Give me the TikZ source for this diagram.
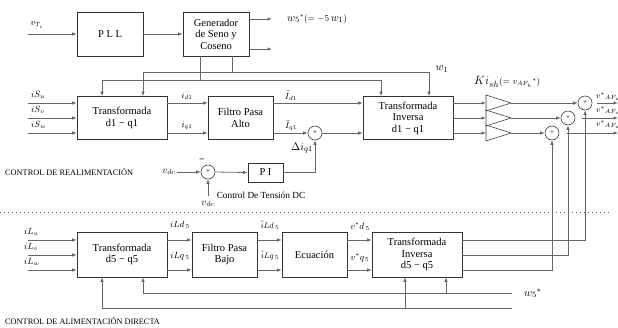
\documentclass[tikz,border=0pt]{standalone}
\usepackage{fontspec}
\setmainfont{Liberation Serif}
\usetikzlibrary{arrows.meta,calc}
\begin{document}
\begin{tikzpicture}[x=1pt,y=-1pt,
 blk/.style={draw=black!80, line width=0.6pt, inner sep=1pt, align=center, font=\fontsize{10.5}{11.5}\selectfont},
 ln/.style={draw=black!60, line width=0.8pt},
 arr/.style={ln, -{Latex[length=4.5pt,width=3.5pt]}},
 sumc/.style={circle, draw=black!75, line width=0.6pt, minimum size=14pt, inner sep=0pt, font=\fontsize{7}{7}\selectfont},
 lab/.style={inner sep=0pt, font=\fontsize{9}{9}\selectfont},
 captext/.style={inner sep=0pt, font=\fontsize{8.3}{9}\selectfont, anchor=west},
 tri/.style={draw=black!75, line width=0.6pt}
]
\useasboundingbox (0,0) rectangle (618,327);

% ---------- blocks ----------
\node[blk, minimum width=66pt, minimum height=44pt] (pll) at (110,34) {P L L};
\node[blk, minimum width=66pt, minimum height=44pt] (gen) at (216,34) {Generador\\de Seno y\\Coseno};
\node[blk, minimum width=90pt, minimum height=43pt] (td1) at (122,118) {Transformada\\d1 − q1};
\node[blk, minimum width=65pt, minimum height=43pt] (fpa) at (240.5,118) {Filtro Pasa\\Alto};
\node[blk, minimum width=90pt, minimum height=43pt] (tinv1) at (408,118) {Transformada\\Inversa\\d1 − q1};
\node[blk, minimum width=35pt, minimum height=19pt] (pi) at (265.5,172.5) {P I};

\node[blk, minimum width=90pt, minimum height=45pt] (td5) at (122,254.5) {Transformada\\d5 − q5};
\node[blk, minimum width=65pt, minimum height=45pt] (fpb) at (224.5,254.5) {Filtro Pasa\\Bajo};
\node[blk, minimum width=65pt, minimum height=45pt] (ecu) at (314.5,254.5) {Ecuación};
\node[blk, minimum width=90pt, minimum height=45pt] (tinv5) at (417,254.5) {Transformada\\Inversa\\d5 − q5};

\node[sumc] (sumq) at (315,133) {+};
\node[sumc] (sum1) at (585,103) {+};
\node[sumc] (sum2) at (568,118) {+};
\node[sumc] (sum3) at (552,133) {+};
\node[sumc] (sumdc) at (208,172) {+};

\foreach \n/\y in {1/103,2/118,3/133} {
  \draw[tri] (486,\y-8) -- (511,\y) -- (486,\y+8) -- cycle;
  \coordinate (tri\n in) at (486,\y);
  \coordinate (tri\n out) at (511,\y);
}

% ---------- helper coordinates ----------
\coordinate (r1) at (0,103); \coordinate (r2) at (0,118); \coordinate (r3) at (0,133);
\coordinate (b1) at (0,240); \coordinate (b2) at (0,255); \coordinate (b3) at (0,270);

% ---------- top: PLL ----------
\coordinate (vti) at (28,34);
\node[lab] (vtil) at (37,25) {$v_{T_i}$};
\draw[arr] (vti) -- (pll.west);
\draw[arr] (pll) -- (gen);
\coordinate (g1) at (272,19); \coordinate (g2) at (272,49);
\draw[arr] (gen.east |- g1) -- (g1);
\draw[arr] (gen.east |- g2) -- (g2);
\node[lab, anchor=west, font=\fontsize{9}{9}\selectfont] (w5l) at (287,19) {{\fontsize{11}{11}\selectfont$w_5$}${}^*(=-5$\,{\fontsize{11}{11}\selectfont$w_1$}$)$};

\coordinate (g72) at (232,72); \coordinate (g80) at (200,80);
\draw[ln] (gen.south -| g72) -- (g72);
\draw[ln] (gen.south -| g80) -- (g80);
\coordinate (td1a) at ([xshift=21pt]td1.north);
\coordinate (td1b) at ([xshift=-20pt]td1.north);
\coordinate (ti1a) at ([xshift=21pt]tinv1.north);
\coordinate (ti1b) at ([xshift=-27pt]tinv1.north);
\draw[arr] (ti1a |- g72) -| (td1a);
\draw[arr] (ti1a |- g72) -- (ti1a);
\draw[arr] (ti1b |- g80) -| (td1b);
\draw[arr] (ti1b |- g80) -- (ti1b);
\node[lab, font=\fontsize{11}{11}\selectfont] (w1l) at (442,69) {$w_1$};

% ---------- top: current chain ----------
\coordinate (s1) at (28,103); \coordinate (s2) at (28,118); \coordinate (s3) at (28,133);
\draw[arr] (s1) -- (s1 -| td1.west);
\draw[arr] (s2) -- (s2 -| td1.west);
\draw[arr] (s3) -- (s3 -| td1.west);
\node[lab, anchor=west] at (31,95) {$iS_u$};
\node[lab, anchor=west] at (31,110) {$iS_v$};
\node[lab, anchor=west] at (31,125) {$iS_w$};

\draw[arr] (td1.east |- r1) -- (fpa.west |- r1);
\draw[arr] (td1.east |- r3) -- (fpa.west |- r3);
\node[lab] at (187,96) {$i_{d1}$};
\node[lab] at (187,126) {$i_{q1}$};

\draw[arr] (fpa.east |- r1) -- (tinv1.west |- r1);
\draw[arr] (fpa.east |- r3) -- (sumq.west);
\draw[arr] (sumq.east) -- (tinv1.west |- r3);
\node[lab] at (291,96) {$\bar{I}_{d1}$};
\node[lab] at (291,126) {$\bar{I}_{q1}$};

\draw[arr] (tinv1.east |- r1) -- (tri1in);
\draw[arr] (tinv1.east |- r2) -- (tri2in);
\draw[arr] (tinv1.east |- r3) -- (tri3in);
\node[lab, anchor=west] (kil) at (474,82) {{\fontsize{13}{13}\selectfont$Ki_{sh}$}{\fontsize{9}{9}\selectfont$(=v_{AF_h}{}^*)$}};

\draw[arr] (tri1out) -- (sum1.west);
\draw[arr] (tri2out) -- (sum2.west);
\draw[arr] (tri3out) -- (sum3.west);

\coordinate (o1) at (618,103); \coordinate (o2) at (618,118); \coordinate (o3) at (618,133);
\draw[arr, shorten <=5pt] (sum1.east) -- (o1);
\draw[arr, shorten <=7pt] (sum2.east) -- (o2);
\draw[arr, shorten <=8pt] (sum3.east) -- (o3);
\node[lab, anchor=west, font=\fontsize{8}{8}\selectfont] at (596,97) {$v^*{}_{AF_u}$};
\node[lab, anchor=west, font=\fontsize{8}{8}\selectfont] at (596,111) {$v^*{}_{AF_v}$};
\node[lab, anchor=west, font=\fontsize{8}{8}\selectfont] at (596,125) {$v^*{}_{AF_w}$};

% ---------- DC voltage control ----------
\node[captext] at (5,172) {CONTROL DE REALIMENTACIÓN};
\coordinate (vdcin) at (177,172);
\node[lab, font=\fontsize{10}{10}\selectfont] at (169,172) {$v_{dc}$};
\draw[arr] (vdcin) -- (sumdc.west);
\node[lab] at (202,160) {\textbf{–}};
\coordinate (vdcb) at (208,196);
\node[lab, font=\fontsize{10}{10}\selectfont] at (208,204) {$v_{dc}$};
\draw[arr] (vdcb) -- (sumdc.south);
\draw[arr] (sumdc.east) -- (pi.west);
\draw[arr] (pi.east) -| (sumq.south);
\node[lab, anchor=north, font=\fontsize{9.3}{10}\selectfont] at (261,192) {Control De Tensión DC};
\node[lab, font=\fontsize{11}{11}\selectfont] at (302,148) {$\Delta i_{q1}$};

% ---------- separator ----------
\draw[black!60, line width=0.6pt, dash pattern=on 1pt off 3pt] (0,212) -- (612,212);

% ---------- bottom: feed-forward ----------
\coordinate (l1) at (28,240); \coordinate (l2) at (28,255); \coordinate (l3) at (28,270);
\draw[arr] (l1) -- (l1 -| td5.west);
\draw[arr] (l2) -- (l2 -| td5.west);
\draw[arr] (l3) -- (l3 -| td5.west);
\node[lab, anchor=west] at (24,232) {$iL_u$};
\node[lab, anchor=west] at (24,247) {$iL_v$};
\node[lab, anchor=west] at (24,262) {$iL_w$};

\draw[arr] (td5.east |- b1) -- (fpb.west |- b1);
\draw[arr] (td5.east |- b3) -- (fpb.west |- b3);
\node[lab] at (180,225) {$iLd_{\,5}$};
\node[lab] at (180,256) {$iLq_{\,5}$};

\draw[arr] (fpb.east |- b1) -- (ecu.west |- b1);
\draw[arr] (fpb.east |- b3) -- (ecu.west |- b3);
\node[lab, font=\fontsize{8.5}{9}\selectfont] at (270,225) {$\tilde{i}Ld_{\,5}$};
\node[lab, font=\fontsize{8.5}{9}\selectfont] at (270,256) {$\tilde{i}Lq_{\,5}$};

\draw[arr] (ecu.east |- b1) -- (tinv5.west |- b1);
\draw[arr] (ecu.east |- b3) -- (tinv5.west |- b3);
\node[lab] at (360,227) {$v^*d_{\,5}$};
\node[lab] at (360,258) {$v^*q_{\,5}$};

\draw[arr] (tinv5.east |- b1) -| (sum1.south);
\draw[arr] (tinv5.east |- b2) -| (sum2.south);
\draw[arr] (tinv5.east |- b3) -| (sum3.south);

\coordinate (fa) at (512,293); \coordinate (fb) at (512,308);
\coordinate (tv5a) at ([xshift=29pt]tinv5.south);
\coordinate (tv5b) at ([xshift=-12pt]tinv5.south);
\draw[arr] (fa) -| ([xshift=21pt]td5.south);
\draw[arr] (tv5a |- fa) -- (tv5a);
\draw[arr] (fb) -| ([xshift=-20pt]td5.south);
\draw[arr] (tv5b |- fb) -- (tv5b);
\node[lab, anchor=west, font=\fontsize{11}{11}\selectfont] at (524,293) {$w_5{}^*$};

\node[captext] at (5,321) {CONTROL DE ALIMENTACIÓN DIRECTA};
\end{tikzpicture}
\end{document}
